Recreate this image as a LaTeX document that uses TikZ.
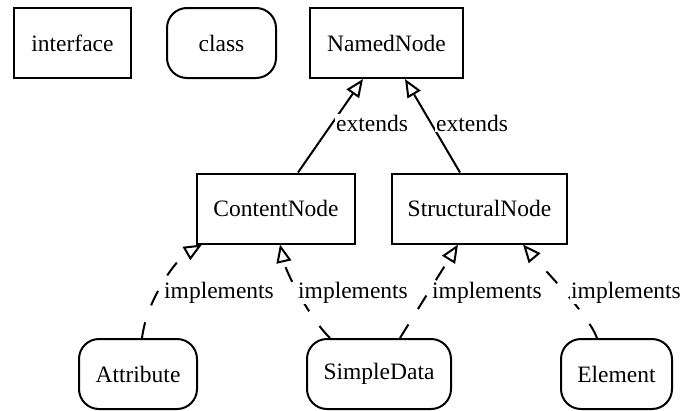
\documentclass[tikz,border=0pt]{standalone}
\usepackage{fontspec}
\setmainfont{Liberation Serif}
\usetikzlibrary{arrows.meta}
\begin{document}
\begin{tikzpicture}[x=1pt,y=-1pt,
  txt/.style={font=\fontsize{23.5}{28}\selectfont},
  iface/.style={txt, draw, line width=2pt, minimum height=70pt, inner sep=0pt},
  cls/.style={iface, rounded corners=20pt},
  gen/.style={line width=2pt, -{Triangle[open, length=18pt, width=15pt]}},
  real/.style={gen, dash pattern=on 16pt off 18pt},
  lbl/.style={txt, fill=white, inner sep=1pt, anchor=base west}]
\useasboundingbox (0,0) rectangle (686,410);

% legend
\node[iface, minimum width=117pt] (legiface) at (72.5,43) {interface};
\node[cls, minimum width=109pt] (legclass) at (221.5,43) {class};

% interfaces
\node[iface, minimum width=153pt] (nn) at (386.5,43) {NamedNode};
\node[iface, minimum width=158pt] (cn) at (276,208.5) {ContentNode};
\node[iface, minimum width=175pt] (sn) at (479.5,208.5) {StructuralNode};

% classes
\node[cls, minimum width=118pt] (at) at (138,374) {Attribute};
\node[cls, minimum width=144pt] (sd) at (379,374) {SimpleData};
\node[cls, minimum width=111pt] (el) at (616.5,374) {Element};

% generalisation
\draw[gen] ([xshift=22pt]cn.north) -- ([xshift=-23.5pt]nn.south);
\draw[gen] ([xshift=-19.5pt]sn.north) -- ([xshift=18.5pt]nn.south);

% realisation
\draw[real] ([xshift=4pt]at.north) .. controls +(5,-39) and +(-26,15) .. ([xshift=6pt]cn.south west);
\draw[real] ([xshift=-49pt]sd.north) .. controls +(-18,-17) and +(7,31) .. ([xshift=4pt]cn.south);
\draw[real] ([xshift=21pt]sd.north) -- ([xshift=-21.5pt]sn.south);
\draw[real] ([xshift=-19.5pt]el.north) .. controls +(-9,-24) and +(22,26) .. ([xshift=43.5pt]sn.south);

% labels
\node[lbl] (x1) at (335,131) {extends};
\node[lbl] (x2) at (435,131) {extends};
\node[lbl] (i1) at (163,298) {implements};
\node[lbl] (i2) at (297,298) {implements};
\node[lbl] (i3) at (431,298) {implements};
\node[lbl] (i4) at (570,298) {implements};
\end{tikzpicture}
\end{document}
